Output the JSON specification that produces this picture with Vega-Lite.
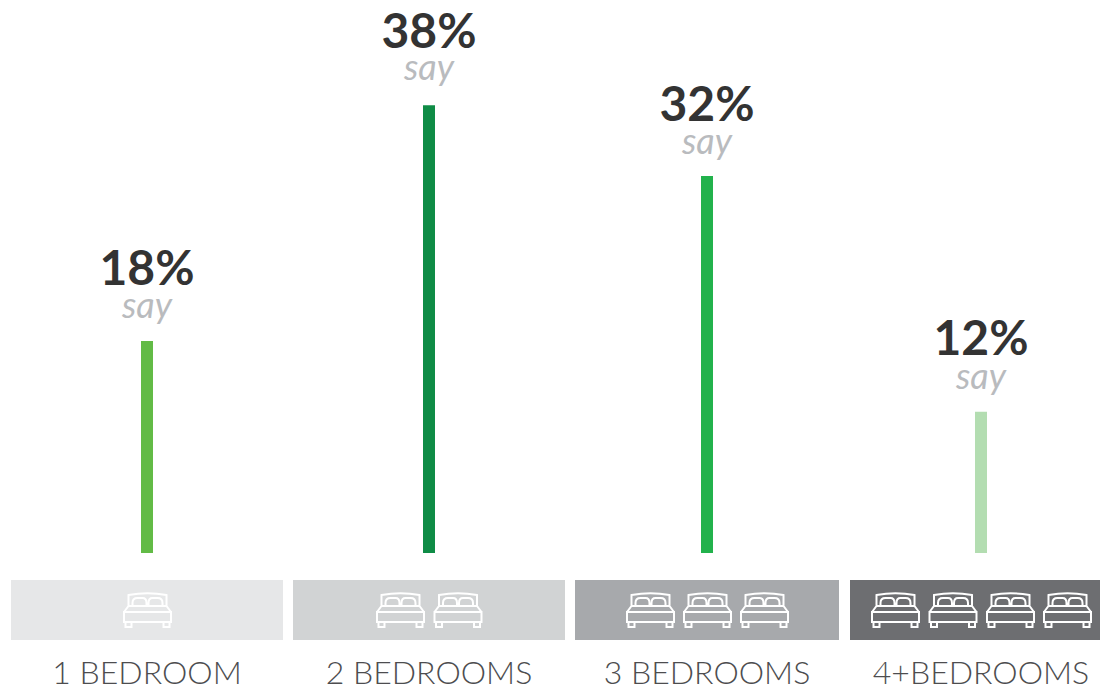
{
  "$schema": "https://vega.github.io/schema/vega-lite/v6.json",
  "padding": 0,
  "spacing": 0,
  "background": "white",
  "config": {"view": {"stroke": null}, "font": "Lato", "concat": {"spacing": 0}},
  "datasets": {
    "rooms": [
      {"rooms": 1, "name": "1 BEDROOM", "share": 0.18},
      {"rooms": 2, "name": "2 BEDROOMS", "share": 0.38},
      {"rooms": 3, "name": "3 BEDROOMS", "share": 0.32},
      {"rooms": 4, "name": "4+BEDROOMS", "share": 0.12}
    ],
    "beds": [
      {"bed": 1}, {"bed": 2}, {"bed": 3}, {"bed": 4}, {"bed": 5},
      {"bed": 6}, {"bed": 7}, {"bed": 8}, {"bed": 9}, {"bed": 10}
    ]
  },
  "resolve": {"scale": {"color": "independent"}},
  "vconcat": [
    {
      "width": 1100,
      "height": 553,
      "data": {"name": "rooms"},
      "encoding": {
        "x": {"field": "rooms", "type": "quantitative", "axis": null,
              "scale": {"domain": [1, 2, 3, 4], "range": [147, 429, 707, 981], "padding": 0}},
        "y": {"field": "share", "type": "quantitative", "axis": null,
              "scale": {"domain": [0, 0.4694], "nice": false, "zero": true}}
      },
      "layer": [
        {
          "mark": {"type": "bar", "size": 12, "orient": "vertical"},
          "encoding": {
            "color": {"field": "rooms", "type": "nominal", "legend": null,
                      "scale": {"domain": [1, 2, 3, 4], "range": ["#62BB46", "#0F8C46", "#22B24C", "#B3DDB1"]}}
          }
        },
        {
          "mark": {"type": "text", "font": "Lato", "fontWeight": "bold", "fontSize": 48,
                   "color": "#333333", "baseline": "alphabetic",
                   "dy": {"expr": "{1: -56, 2: -57, 3: -55, 4: -57}[datum.rooms]"}},
          "encoding": {"text": {"field": "share", "type": "quantitative", "format": ".0%"}}
        },
        {
          "mark": {"type": "text", "font": "Lato", "fontStyle": "italic", "fontWeight": 400, "fontSize": 36,
                   "color": "#B9BBBE", "baseline": "alphabetic",
                   "dy": {"expr": "{1: -23, 2: -25, 3: -22, 4: -23}[datum.rooms]"}},
          "encoding": {"text": {"value": "say"}}
        }
      ]
    },
    {
      "width": 1100,
      "height": 136,
      "resolve": {"scale": {"x": "independent", "y": "shared"}},
      "encoding": {
        "y": {"datum": "panel", "type": "nominal", "axis": null,
              "scale": {"type": "point", "domain": ["panel", "label"], "range": [57, 131], "padding": 0}}
      },
      "layer": [
        {
          "data": {"name": "rooms"},
          "transform": [{"filter": "datum.rooms <= 2"}],
          "mark": {"type": "rect", "width": 272, "height": 60, "clip": true},
          "encoding": {
            "x": {"field": "rooms", "type": "quantitative", "axis": null,
                  "scale": {"domain": [1, 2, 3, 4], "range": [147, 429, 707, 981], "padding": 0}},
            "color": {"field": "rooms", "type": "nominal", "legend": null,
                      "scale": {"domain": [1, 2, 3, 4], "range": ["#E6E7E8", "#D1D3D4", "#A7A9AC", "#6D6E71"]}}
          }
        },
        {
          "data": {"name": "rooms"},
          "transform": [{"filter": "datum.rooms == 3"}],
          "mark": {"type": "rect", "width": 264, "height": 60, "clip": true},
          "encoding": {
            "x": {"field": "rooms", "type": "quantitative", "axis": null,
                  "scale": {"domain": [1, 2, 3, 4], "range": [147, 429, 707, 981], "padding": 0}},
            "color": {"field": "rooms", "type": "nominal", "legend": null,
                      "scale": {"domain": [1, 2, 3, 4], "range": ["#E6E7E8", "#D1D3D4", "#A7A9AC", "#6D6E71"]}}
          }
        },
        {
          "data": {"name": "rooms"},
          "transform": [{"filter": "datum.rooms == 4"}],
          "mark": {"type": "rect", "width": 262, "height": 60, "clip": true},
          "encoding": {
            "x": {"field": "rooms", "type": "quantitative", "axis": null,
                  "scale": {"domain": [1, 2, 3, 4], "range": [147, 429, 707, 981], "padding": 0}},
            "color": {"field": "rooms", "type": "nominal", "legend": null,
                      "scale": {"domain": [1, 2, 3, 4], "range": ["#E6E7E8", "#D1D3D4", "#A7A9AC", "#6D6E71"]}}
          }
        },
        {
          "data": {"name": "beds"},
          "mark": {
            "type": "point", "filled": false, "opacity": 1, "stroke": "white", "strokeWidth": 2, "size": 2304,
            "shape": "M-0.979,0.083H0.979V0.5H-0.979ZM-0.979,0.083L-0.792,-0.167H0.792L0.979,0.083M-0.792,-0.167V-0.625Q0,-0.771,0.792,-0.625V-0.167M-0.625,-0.167V-0.292Q-0.625,-0.5,-0.417,-0.5H-0.208Q-0.042,-0.5,-0.042,-0.292V-0.167M0.042,-0.167V-0.292Q0.042,-0.5,0.208,-0.5H0.417Q0.625,-0.5,0.625,-0.292V-0.167M-0.917,0.5V0.708H-0.667V0.5M0.667,0.5V0.708H0.917V0.5"
          },
          "encoding": {
            "x": {"field": "bed", "type": "quantitative", "axis": null,
                  "scale": {"domain": [1, 2, 3, 4, 5, 6, 7, 8, 9, 10],
                            "range": [147.5, 400.5, 458, 650.5, 707.5, 764.5, 895.5, 953, 1010.5, 1067.5], "padding": 0}}
          }
        },
        {
          "data": {"name": "rooms"},
          "mark": {"type": "text", "font": "Lato", "fontWeight": 300, "fontSize": 32,
                   "color": "#4D4D4F", "baseline": "alphabetic"},
          "encoding": {
            "x": {"field": "rooms", "type": "quantitative", "axis": null,
                  "scale": {"domain": [1, 2, 3, 4], "range": [147, 429, 707, 981], "padding": 0}},
            "y": {"datum": "label", "type": "nominal", "axis": null,
                  "scale": {"type": "point", "domain": ["panel", "label"], "range": [57, 131], "padding": 0}},
            "text": {"field": "name", "type": "nominal"}
          }
        }
      ]
    }
  ]
}
